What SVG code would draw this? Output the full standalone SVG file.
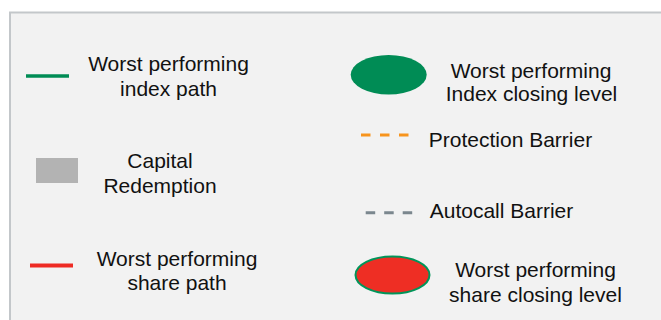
<svg xmlns="http://www.w3.org/2000/svg" width="661" height="320" viewBox="0 0 661 320">
<style>
  text { font-family: "Liberation Sans", Arial, sans-serif; font-size: 21px; fill: #111111; text-anchor: middle; }
</style>
<rect width="661" height="320" fill="#ffffff"/>
<rect id="frame" x="10" y="12.5" width="670" height="330" fill="#f2f2f2" stroke="#c3c7ca" stroke-width="2"/>
<g id="connectors"></g>
<g id="index-path">
  <line x1="26" y1="76" x2="69" y2="76" stroke="#008c55" stroke-width="3.5"/>
  <text x="168.5" y="71">Worst performing</text>
  <text x="168.5" y="96">index path</text>
</g>
<g id="capital-redemption">
  <rect x="36" y="158" width="42" height="25" fill="#b3b3b3"/>
  <text x="160" y="168">Capital</text>
  <text x="160" y="193">Redemption</text>
</g>
<g id="share-path">
  <line x1="30" y1="265.5" x2="73" y2="265.5" stroke="#ee2b24" stroke-width="4"/>
  <text x="177" y="266">Worst performing</text>
  <text x="177" y="290">share path</text>
</g>
<g id="index-closing">
  <ellipse cx="388.7" cy="74.7" rx="38" ry="19.7" fill="#008c55"/>
  <text x="531" y="77.7">Worst performing</text>
  <text x="531.5" y="101">Index closing level</text>
</g>
<g id="protection-barrier">
  <line x1="361" y1="135" x2="409" y2="135" stroke="#f7941d" stroke-width="3" stroke-dasharray="9.5 9.5"/>
  <text x="510.5" y="147">Protection Barrier</text>
</g>
<g id="autocall-barrier">
  <line x1="365.7" y1="212.7" x2="414" y2="212.7" stroke="#7b878e" stroke-width="3" stroke-dasharray="9.5 9"/>
  <text x="501.5" y="218">Autocall Barrier</text>
</g>
<g id="share-closing">
  <ellipse cx="392.5" cy="275" rx="37" ry="18.5" fill="#ee2e24" stroke="#00955a" stroke-width="2"/>
  <text x="535.5" y="277">Worst performing</text>
  <text x="535.5" y="301.7">share closing level</text>
</g>
</svg>
